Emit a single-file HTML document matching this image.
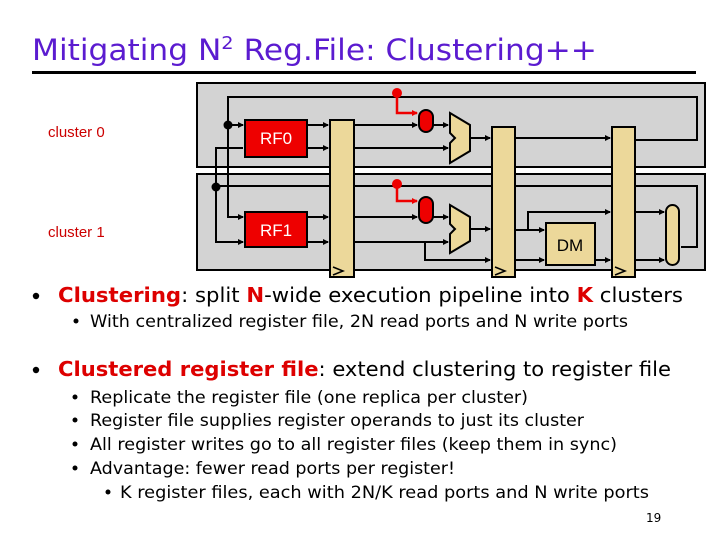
<!DOCTYPE html>
<html><head><meta charset="utf-8"><style>
html,body{margin:0;padding:0;background:#fff;width:720px;height:540px;overflow:hidden}
svg{display:block}
</style></head><body>
<svg width="720" height="540" viewBox="0 0 720 540" xmlns="http://www.w3.org/2000/svg">
<defs>
<marker id="a" markerWidth="6" markerHeight="6" refX="5" refY="3" orient="auto" markerUnits="userSpaceOnUse"><path d="M0,0 L6,3 L0,6 z" fill="#000"/></marker>
<marker id="r" markerWidth="6" markerHeight="6" refX="5" refY="3" orient="auto" markerUnits="userSpaceOnUse"><path d="M0,0 L6,3 L0,6 z" fill="#e00"/></marker>
</defs>
<text x="32" y="60" font-family="DejaVu Sans, sans-serif" font-size="29" fill="#5b1bd0" textLength="565" lengthAdjust="spacingAndGlyphs">Mitigating N<tspan font-size="18" dy="-11">2</tspan><tspan dy="11"> Reg.File: Clustering++</tspan></text>
<rect x="32" y="71" width="664" height="3" fill="#000"/>
<text x="48" y="137" font-family="Liberation Sans, sans-serif" font-size="15" fill="#cc0000">cluster 0</text>
<text x="48" y="237" font-family="Liberation Sans, sans-serif" font-size="15" fill="#cc0000">cluster 1</text>
<g stroke="#000" stroke-width="2">
<rect x="197" y="83" width="508" height="84" fill="#d3d3d3"/>
<rect x="197" y="174" width="508" height="96" fill="#d3d3d3"/>
</g>
<g stroke="#000" stroke-width="2" fill="none">
<!-- feedback loops -->
<polyline points="635,140 697,140 697,97 228,97 228,217 243,217" marker-end="url(#a)"/>
<line x1="228" y1="125" x2="243" y2="125" marker-end="url(#a)"/>
<polyline points="243,148 216,148 216,242 243,242" marker-end="url(#a)"/>
<polyline points="216,186 697,186 697,247 681,247"/>
<!-- top cluster -->
<line x1="307" y1="125" x2="328" y2="125" marker-end="url(#a)"/>
<line x1="307" y1="148" x2="328" y2="148" marker-end="url(#a)"/>
<line x1="354" y1="125" x2="417" y2="125" marker-end="url(#a)"/>
<line x1="433" y1="125" x2="448" y2="125" marker-end="url(#a)"/>
<line x1="354" y1="148" x2="448" y2="148" marker-end="url(#a)"/>
<line x1="470" y1="138" x2="490" y2="138" marker-end="url(#a)"/>
<line x1="515" y1="138" x2="610" y2="138" marker-end="url(#a)"/>
<!-- bottom cluster -->
<line x1="307" y1="217" x2="328" y2="217" marker-end="url(#a)"/>
<line x1="307" y1="242" x2="328" y2="242" marker-end="url(#a)"/>
<line x1="354" y1="217" x2="417" y2="217" marker-end="url(#a)"/>
<line x1="433" y1="217" x2="448" y2="217" marker-end="url(#a)"/>
<line x1="354" y1="242" x2="448" y2="242" marker-end="url(#a)"/>
<polyline points="425,242 425,260 490,260" marker-end="url(#a)"/>
<line x1="470" y1="229" x2="490" y2="229" marker-end="url(#a)"/>
<line x1="515" y1="230" x2="544" y2="230" marker-end="url(#a)"/>
<polyline points="528,230 528,212 610,212" marker-end="url(#a)"/>
<line x1="515" y1="260" x2="544" y2="260" marker-end="url(#a)"/>
<line x1="595" y1="260" x2="610" y2="260" marker-end="url(#a)"/>
<line x1="635" y1="212" x2="664" y2="212" marker-end="url(#a)"/>
<line x1="635" y1="260" x2="664" y2="260" marker-end="url(#a)"/>
</g>
<circle cx="228" cy="125" r="4.5" fill="#000"/>
<circle cx="216" cy="187" r="4.5" fill="#000"/>
<!-- red control -->
<g stroke="#e00" stroke-width="2.5" fill="none">
<polyline points="397,93 397,113 417,113" marker-end="url(#r)"/>
<polyline points="397,184 397,201 417,201" marker-end="url(#r)"/>
</g>
<circle cx="397" cy="93" r="5" fill="#e00"/>
<circle cx="397" cy="184" r="5" fill="#e00"/>
<g stroke="#000" stroke-width="2">
<rect x="419" y="110" width="14" height="22" rx="7" fill="#e00"/>
<rect x="419" y="197" width="14" height="26" rx="7" fill="#e00"/>
<rect x="245" y="120" width="62" height="37" fill="#e00"/>
<rect x="245" y="212" width="62" height="35" fill="#e00"/>
<rect x="330" y="120" width="24" height="157" fill="#ecd89a"/>
<rect x="492" y="127" width="23" height="150" fill="#ecd89a"/>
<rect x="612" y="127" width="23" height="150" fill="#ecd89a"/>
<polygon points="450,113 470,125 470,151 450,163 450,143 455,138 450,133" fill="#ecd89a"/>
<polygon points="450,205 470,217 470,241 450,253 450,234 455,229 450,224" fill="#ecd89a"/>
<rect x="546" y="223" width="49" height="42" fill="#ecd89a"/>
<rect x="666" y="205" width="13" height="60" rx="6.5" fill="#ecd89a"/>
</g>
<g stroke="#000" stroke-width="1.5" fill="none">
<polyline points="333,267 343,271 333,275"/>
<polyline points="495,267 505,271 495,275"/>
<polyline points="615,267 625,271 615,275"/>
</g>
<text x="276" y="144" font-family="Liberation Sans, sans-serif" font-size="17" fill="#fff" text-anchor="middle">RF0</text>
<text x="276" y="236" font-family="Liberation Sans, sans-serif" font-size="17" fill="#fff" text-anchor="middle">RF1</text>
<text x="570" y="251" font-family="Liberation Sans, sans-serif" font-size="17" fill="#000" text-anchor="middle">DM</text>
<g font-family="DejaVu Sans, sans-serif" fill="#000">
<circle cx="36" cy="296" r="3.2"/>
<text x="58" y="302" font-size="20" textLength="625" lengthAdjust="spacingAndGlyphs"><tspan fill="#dd0000" font-weight="bold">Clustering</tspan>: split <tspan fill="#dd0000" font-weight="bold">N</tspan>-wide execution pipeline into <tspan fill="#dd0000" font-weight="bold">K</tspan> clusters</text>
<circle cx="76" cy="321" r="2.5"/>
<text x="90" y="327" font-size="17" textLength="538" lengthAdjust="spacingAndGlyphs">With centralized register file, 2N read ports and N write ports</text>
<circle cx="36" cy="370" r="3.2"/>
<text x="58" y="376" font-size="20" textLength="613" lengthAdjust="spacingAndGlyphs"><tspan fill="#dd0000" font-weight="bold">Clustered register file</tspan>: extend clustering to register file</text>
<circle cx="75" cy="397" r="2.5"/>
<text x="90" y="403" font-size="17" textLength="438" lengthAdjust="spacingAndGlyphs">Replicate the register file (one replica per cluster)</text>
<circle cx="75" cy="420" r="2.5"/>
<text x="90" y="426" font-size="17" textLength="494" lengthAdjust="spacingAndGlyphs">Register file supplies register operands to just its cluster</text>
<circle cx="75" cy="444" r="2.5"/>
<text x="90" y="450" font-size="17" textLength="527" lengthAdjust="spacingAndGlyphs">All register writes go to all register files (keep them in sync)</text>
<circle cx="75" cy="468" r="2.5"/>
<text x="90" y="474" font-size="17" textLength="365" lengthAdjust="spacingAndGlyphs">Advantage: fewer read ports per register!</text>
<circle cx="108" cy="492" r="2.5"/>
<text x="120" y="498" font-size="17" textLength="529" lengthAdjust="spacingAndGlyphs">K register files, each with 2N/K read ports and N write ports</text>
<text x="646" y="522" font-size="12">19</text>
</g>
</svg>
</body></html>
